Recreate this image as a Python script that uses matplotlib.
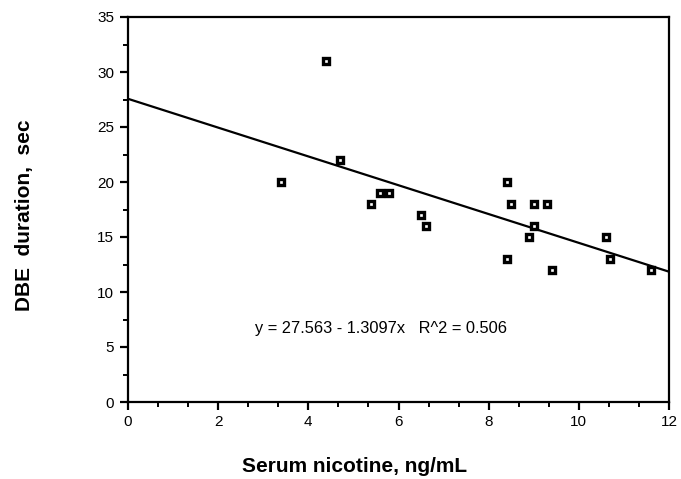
import matplotlib
matplotlib.use("Agg")
import matplotlib.pyplot as plt
from matplotlib.ticker import MultipleLocator
import numpy as np

plt.rcParams['font.family'] = ['Liberation Sans', 'DejaVu Sans']

nicotine = [4.4, 3.4, 4.7, 5.4, 5.6, 5.8, 6.5, 6.6, 8.4, 8.5, 9.0, 9.3, 9.0, 8.9, 8.4, 9.4, 10.6, 10.7, 11.6]
duration = [31, 20, 22, 18, 19, 19, 17, 16, 20, 18, 18, 18, 16, 15, 13, 12, 15, 13, 12]
intercept = 27.563
slope = -1.3097
equation = "y = 27.563 - 1.3097x   R^2 = 0.506"

fig = plt.figure(figsize=(6.81, 4.79), dpi=100)
ax = fig.add_axes([128/681, 1-402/479, 541/681, 385/479])

fx = np.array([0, 12])
ax.plot(fx, intercept + slope*fx, color='black', lw=1.6, zorder=2)
ax.plot(nicotine, duration, linestyle='none', marker='s', ms=4.8, mfc='white',
        mec='black', mew=2.4, zorder=3)

ax.set_xlim(0, 12)
ax.set_ylim(0, 35)
ax.xaxis.set_major_locator(MultipleLocator(2))
ax.xaxis.set_minor_locator(MultipleLocator(2/3))
ax.yaxis.set_major_locator(MultipleLocator(5))
ax.yaxis.set_minor_locator(MultipleLocator(2.5))
ax.tick_params(which='major', direction='out', length=6, width=1.6, labelsize=11, pad=4)
ax.tick_params(which='minor', direction='out', length=3.5, width=1.4)
ax.tick_params(axis='x', pad=3)
for s in ax.spines.values():
    s.set_linewidth(1.6)

ax.text(2.82, 6.7, equation, fontsize=11.8, va='center', ha='left')

fig.text(355/681, 1-467/479, "Serum nicotine, ng/mL", fontsize=15, fontweight='bold',
         ha='center', va='center')
fig.text(25/681, 1-215/479, "DBE  duration,  sec", fontsize=15, fontweight='bold',
         ha='center', va='center', rotation=90)

fig.savefig("out.png", dpi=100)
